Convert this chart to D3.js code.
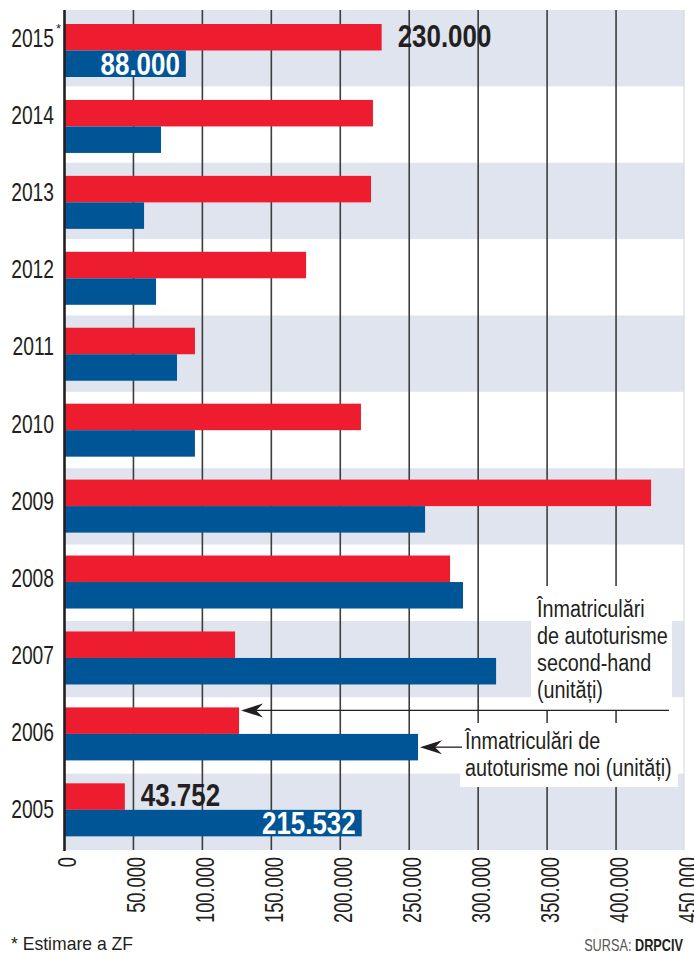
<!DOCTYPE html>
<html><head><meta charset="utf-8">
<script src="https://cdn.jsdelivr.net/npm/d3@7"></script>
<style>
html,body{margin:0;padding:0;background:#fff;}
svg{display:block;}
text{font-family:"Liberation Sans",Arial,sans-serif;fill:#231f20;}
</style></head>
<body>
<svg id="chart" width="694" height="953"></svg>
<script>
const years = ["2015","2014","2013","2012","2011","2010","2009","2008","2007","2006","2005"];
const secondHand = [230000,223700,222300,175200,94600,215000,425400,279600,123700,126600,43752];
const newCars = [88000,70000,57700,66400,81600,94600,261500,289000,313000,256400,215532];
const tickValues = [0,50000,100000,150000,200000,250000,300000,350000,400000,450000];
const labelSecond = {"2015":"230.000","2005":"43.752"};
const labelNew = {"2015":"88.000","2005":"215.532"};
const legendSecond = ["Înmatriculări","de autoturisme","second-hand","(unități)"];
const legendNew = ["Înmatriculări de","autoturisme noi (unități)"];

const RED="#ed1c2e", BLUE="#005596", BAND="#dfe4ef", INK="#231f20";
const svg = d3.select("#chart");
const x = d3.scaleLinear().domain([0,450000]).range([64.5,685]);
const y = d3.scaleBand().domain(years).range([10,850]).paddingInner(0).paddingOuter(0);
const bw = y.bandwidth();
const barH = 26.5;
const barOff = i => 14 - 0.43*i;
const loc = d3.formatLocale({decimal:",",thousands:".",grouping:[3],currency:["",""]});
const fmt = loc.format(",");

// condense text horizontally (the original uses a condensed face)
function condense(sel, f){
  sel.each(function(){
    const w = this.getComputedTextLength();
    d3.select(this).attr("textLength", w*f).attr("lengthAdjust","spacingAndGlyphs");
  });
  return sel;
}

// alternating bands
svg.append("g").selectAll("rect").data(years.filter((d,i)=>i%2===0)).join("rect")
  .attr("x",x(0)).attr("width",684-x(0))
  .attr("y",d=>y(d)).attr("height",bw).attr("fill",BAND);

// gridlines
svg.append("g").selectAll("line").data(tickValues.filter(v=>v>0 && v<450000)).join("line")
  .attr("x1",d=>x(d)).attr("x2",d=>x(d)).attr("y1",10).attr("y2",850)
  .attr("stroke","#3d3d3d").attr("stroke-width",1.6);
svg.append("line").attr("x1",x(450000)-1).attr("x2",x(450000)-1).attr("y1",10).attr("y2",850)
  .attr("stroke","#d0d4dc").attr("stroke-width",1);

// white boxes behind annotations
svg.append("rect").attr("x",531).attr("y",586).attr("width",141).attr("height",124).attr("fill","#fff");
svg.append("rect").attr("x",460).attr("y",723).attr("width",218).attr("height",64).attr("fill","#fff");

// bars
const g = svg.append("g");
g.selectAll("rect.sh").data(years).join("rect").attr("class","sh")
  .attr("x",x(0)).attr("y",(d,i)=>y(d)+barOff(i))
  .attr("width",(d,i)=>x(secondHand[i])-x(0)).attr("height",barH).attr("fill",RED);
g.selectAll("rect.nw").data(years).join("rect").attr("class","nw")
  .attr("x",x(0)).attr("y",(d,i)=>y(d)+barOff(i)+barH)
  .attr("width",(d,i)=>x(newCars[i])-x(0)).attr("height",barH).attr("fill",BLUE);

// left axis line
svg.append("line").attr("x1",x(0)).attr("x2",x(0)).attr("y1",10).attr("y2",851)
  .attr("stroke",INK).attr("stroke-width",2.6);

// year labels
condense(svg.append("g").selectAll("text").data(years).join("text")
  .attr("x",54).attr("y",(d,i)=>y(d)+37+(i/10)*7.5)
  .attr("text-anchor","end").attr("font-size",26).text(d=>d), 0.74);
svg.append("text").attr("x",56).attr("y",33).attr("font-size",13).text("*");

// bottom axis
const ax = svg.append("g").attr("transform","translate(0,850)")
  .call(d3.axisBottom(x).tickValues(tickValues).tickSize(0).tickFormat(fmt));
ax.select(".domain").remove();
ax.selectAll("text").attr("transform","rotate(-90)").attr("text-anchor","end")
  .attr("x",-7).attr("y",0).attr("dy","0.45em").attr("font-size",25)
  .style("font-family",'"Liberation Sans",Arial,sans-serif').attr("fill",INK);
condense(ax.selectAll("text"), 0.73);

// value labels
years.forEach((yr,i)=>{
  const top = y(yr)+barOff(i);
  if(labelSecond[yr]){
    condense(svg.append("text").attr("x",x(secondHand[i])+16).attr("y",top+barH-3.5)
      .attr("font-size",32).attr("font-weight","bold").text(labelSecond[yr]), 0.81);
  }
  if(labelNew[yr]){
    condense(svg.append("text").attr("x",x(newCars[i])-6).attr("y",top+2*barH-2)
      .attr("text-anchor","end").attr("font-size",32).attr("font-weight","bold")
      .style("fill","#fff").text(labelNew[yr]), 0.81);
  }
});

// annotations
function arrow(tx,ty,endX){
  svg.append("line").attr("x1",tx+14).attr("x2",endX).attr("y1",ty).attr("y2",ty)
    .attr("stroke",INK).attr("stroke-width",1.3);
  svg.append("path").attr("d",`M${tx},${ty} L${tx+22},${ty-7} L${tx+15},${ty} L${tx+22},${ty+7} Z`).attr("fill",INK);
}
const i06 = years.indexOf("2006");
arrow(x(secondHand[i06])+2, y("2006")+barOff(i06)+3, 669);
arrow(x(newCars[i06])+2, y("2006")+barOff(i06)+1.5*barH, 462);

condense(svg.append("g").selectAll("text").data(legendSecond).join("text")
  .attr("x",537).attr("y",(d,i)=>617+i*27).attr("font-size",23).text(d=>d), 0.86);
condense(svg.append("g").selectAll("text").data(legendNew).join("text")
  .attr("x",465).attr("y",(d,i)=>749+i*27).attr("font-size",23).text(d=>d), 0.86);

// footer
condense(svg.append("text").attr("x",11).attr("y",950).attr("font-size",18.5).text("* Estimare a ZF"), 0.95);
const src = svg.append("text").attr("x",683).attr("y",951).attr("text-anchor","end").attr("font-size",16.5);
src.append("tspan").style("fill","#555").text("SURSA: ");
src.append("tspan").attr("font-weight","bold").text("DRPCIV");
condense(src, 0.77);
</script>
</body></html>
